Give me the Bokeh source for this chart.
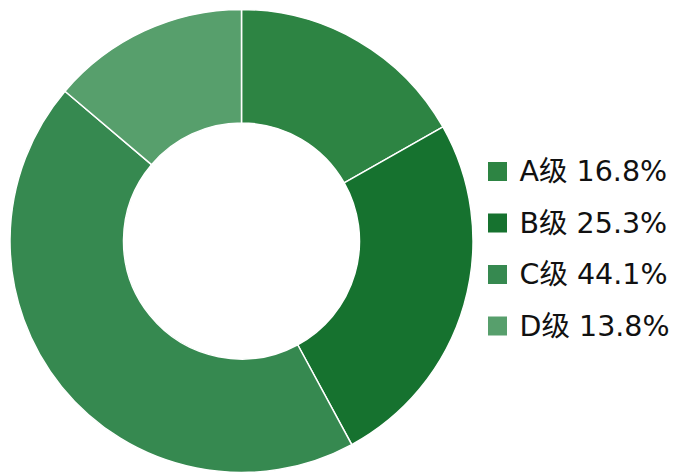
import math
from bokeh.plotting import figure
from bokeh.models import ColumnDataSource, Range1d
from bokeh.core.properties import value
from bokeh.embed import file_html
from bokeh.resources import INLINE

categories = ["A", "B", "C", "D"]
percents = [16.8, 25.3, 44.1, 13.8]
colors = ["#2d8443", "#16722f", "#368950", "#579f6c"]

W, H = 682, 473
p = figure(width=W, height=H, output_backend="svg", toolbar_location=None,
           x_range=Range1d(0, W), y_range=Range1d(0, H), min_border=0)
p.axis.visible = False
p.grid.visible = False
p.outline_line_color = None
p.background_fill_color = "white"

total = sum(percents)
starts, ends = [], []
acc = 0.0
for v in percents:
    starts.append(math.pi / 2 - 2 * math.pi * acc / total)
    acc += v
    ends.append(math.pi / 2 - 2 * math.pi * acc / total)

cx, cy = 241, H - 240.5
src = ColumnDataSource(dict(start=starts, end=ends, color=colors))
p.annular_wedge(x=cx, y=cy, inner_radius=118, outer_radius=231.5,
                start_angle="start", end_angle="end", direction="clock",
                fill_color="color", line_color="white", line_width=1.5, source=src)

row_y = [H - (171 + i * 51.5) for i in range(len(categories))]
labels = [f"{c}级 {v}%" for c, v in zip(categories, percents)]
lsrc = ColumnDataSource(dict(y=row_y, label=labels, color=colors))
p.rect(x=497, y="y", width=19, height=19, fill_color="color", line_color=None, source=lsrc)
p.text(x=519, y="y", text="label", text_font=value("DejaVu Sans, Noto Sans CJK SC"),
       text_font_size="28.5px", text_baseline="middle", text_align="left",
       text_color="#111111", source=lsrc)

open("out.html", "w").write(file_html(p, INLINE))
